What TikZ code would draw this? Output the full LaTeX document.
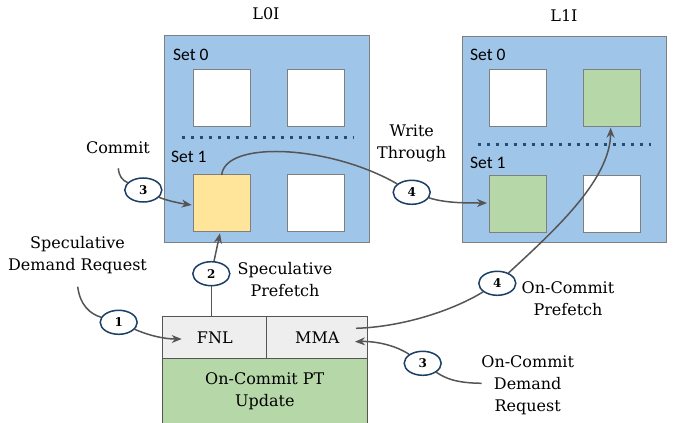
\documentclass[tikz,border=0pt]{standalone}
\usepackage{fontspec}
\setmainfont{DejaVu Serif}
\newfontfamily\setlabelfont{Carlito}
\usetikzlibrary{arrows.meta,shapes.geometric}
\definecolor{cacheblue}{HTML}{9FC5E8}
\definecolor{boxgray}{HTML}{7F7F7F}
\definecolor{lineyellow}{HTML}{FFE599}
\definecolor{linegreen}{HTML}{B6D7A8}
\definecolor{cellgray}{HTML}{EEEEEE}
\definecolor{navy}{HTML}{1C3F66}
\definecolor{dotblue}{HTML}{1F4E79}
\definecolor{arrowgray}{HTML}{555555}
\begin{document}
\begin{tikzpicture}[x=1pt,y=-1pt,
  font=\fontsize{16}{22}\selectfont,
  cache/.style={draw=boxgray,fill=cacheblue,line width=1pt},
  cline/.style={draw=boxgray,line width=1pt,minimum width=57pt,minimum height=57pt,inner sep=0pt},
  setlbl/.style={font=\setlabelfont\fontsize{17.5}{20}\selectfont,inner sep=0pt},
  lbl/.style={align=center,inner sep=0pt},
  stepnum/.style={ellipse,draw=navy,line width=1.5pt,fill=white,minimum width=37pt,minimum height=24pt,inner sep=0pt,font=\fontsize{12}{14}\bfseries\selectfont},
  conn/.style={draw=arrowgray,line width=1.5pt},
  arr/.style={conn,-{Stealth[length=10pt,width=8pt]}},
  dotline/.style={draw=dotblue,line width=3pt,dash pattern=on 3pt off 6pt},
  cell/.style={draw=arrowgray,line width=1pt,fill=cellgray,minimum height=42pt,inner sep=0pt}
]
\useasboundingbox (0,0) rectangle (673,423);
\clip (0,0) rectangle (673,423);

% titles
\node[lbl] (t0) at (266,14) {L0I};
\node[lbl] (t1) at (564,16) {L1I};

% L0I cache
\node[cache,minimum width=205.5pt,minimum height=206.5pt,inner sep=0pt] (l0) at (266.75,138.75) {};
\node[setlbl,anchor=west] (l0s0) at (173,55) {Set 0};
\node[setlbl,anchor=west] (l0s1) at (171,157) {Set 1};
\node[cline,fill=white] (l0a) at (221.5,97.7) {};
\node[cline,fill=white] (l0b) at (315.5,97.7) {};
\node[cline,fill=lineyellow] (l0c) at (221.5,203.4) {};
\node[cline,fill=white] (l0d) at (315.5,203.4) {};
\coordinate (d0a) at (181.7,137.3);
\coordinate (d0b) at (354,137.3);
\draw[dotline] (d0a) -- (d0b);

% L1I cache
\node[cache,minimum width=204.4pt,minimum height=206.3pt,inner sep=0pt] (l1) at (564.5,139.15) {};
\node[setlbl,anchor=west] (l1s0) at (470,55) {Set 0};
\node[setlbl,anchor=west] (l1s1) at (470,163) {Set 1};
\node[cline,fill=white] (l1a) at (517.5,97.7) {};
\node[cline,fill=linegreen] (l1b) at (611.5,97.7) {};
\node[cline,fill=linegreen] (l1c) at (517.5,203.8) {};
\node[cline,fill=white] (l1d) at (611.5,203.8) {};
\coordinate (d1a) at (477.7,144);
\coordinate (d1b) at (651,144);
\draw[dotline] (d1a) -- (d1b);

% bottom unit
\node[cell,fill=linegreen,minimum width=205pt,minimum height=66pt,anchor=north west] (pt) at (162.3,358) {};
\node[lbl] (ptt) at (264.8,391) {On-Commit PT\\Update};
\node[cell,minimum width=104pt,anchor=north west] (fnl) at (162.3,316) {FNL};
\node[cell,minimum width=101pt,anchor=north west] (mma) at (266.3,316) {MMA};

% labels
\node[lbl] (lspec) at (77.5,255) {Speculative\\Demand Request};
\node[lbl] (lcommit) at (118,148) {Commit};
\node[lbl] (lpref) at (285,280) {Speculative\\Prefetch};
\node[lbl] (lwt) at (411.7,143) {Write\\Through};
\node[lbl] (locp) at (568,299) {On-Commit\\Prefetch};
\node[lbl] (locd) at (527.7,385) {On-Commit\\Demand\\Request};

% step circles (positions)
\coordinate (p1) at (118.7,322.3);
\coordinate (p2) at (211.3,273.7);
\coordinate (p3) at (143.3,190);
\coordinate (p4) at (411.7,192.3);
\coordinate (p5) at (497.3,283.3);
\coordinate (p6) at (422.7,363.3);
\node[stepnum,draw=none,fill=none] (c1) at (p1) {};
\node[stepnum,draw=none,fill=none] (c2) at (p2) {};
\node[stepnum,draw=none,fill=none] (c3) at (p3) {};
\node[stepnum,draw=none,fill=none] (c4) at (p4) {};
\node[stepnum,draw=none,fill=none] (c5) at (p5) {};
\node[stepnum,draw=none,fill=none] (c6) at (p6) {};

% connector end points
\coordinate (s1) at (77.7,286.7);
\coordinate (a1) at (181.7,339);
\coordinate (b2) at (211.3,316);
\coordinate (a2) at (220,233.3);
\coordinate (s3) at (118.3,168.3);
\coordinate (a3) at (191.7,205);
\coordinate (t4) at (221.7,175);
\coordinate (a4) at (487,203);
\coordinate (b5) at (356,328.3);
\coordinate (a5) at (610.7,127.7);
\coordinate (s6) at (481.7,383.3);
\coordinate (a6) at (355,341.7);

% connectors
\draw[conn] (s1) .. controls (80,305) and (90,314) .. (c1);
\draw[arr] (c1) .. controls (150,336) and (165,339) .. (a1);
\draw[conn] (b2) -- (c2);
\draw[arr] (c2) -- (a2);
\draw[conn] (s3) .. controls (119,176) and (122,180) .. (c3);
\draw[arr] (c3) .. controls (165,200) and (178,203) .. (a3);
\draw[conn] (t4) .. controls (225,140) and (330,145) .. (c4);
\draw[arr] (c4) .. controls (445,203) and (465,203) .. (a4);
\draw[conn] (b5) .. controls (400,327) and (450,312) .. (c5);
\draw[arr] (c5) .. controls (555,230) and (610,180) .. (a5);
\draw[conn] (s6) .. controls (455,383) and (445,378) .. (c6);
\draw[arr] (c6) .. controls (395,345) and (375,341) .. (a6);

% step circles drawn on top
\node[stepnum] (n1) at (p1) {1};
\node[stepnum] (n2) at (p2) {2};
\node[stepnum] (n3) at (p3) {3};
\node[stepnum] (n4) at (p4) {4};
\node[stepnum] (n5) at (p5) {4};
\node[stepnum] (n6) at (p6) {3};
\end{tikzpicture}
\end{document}
